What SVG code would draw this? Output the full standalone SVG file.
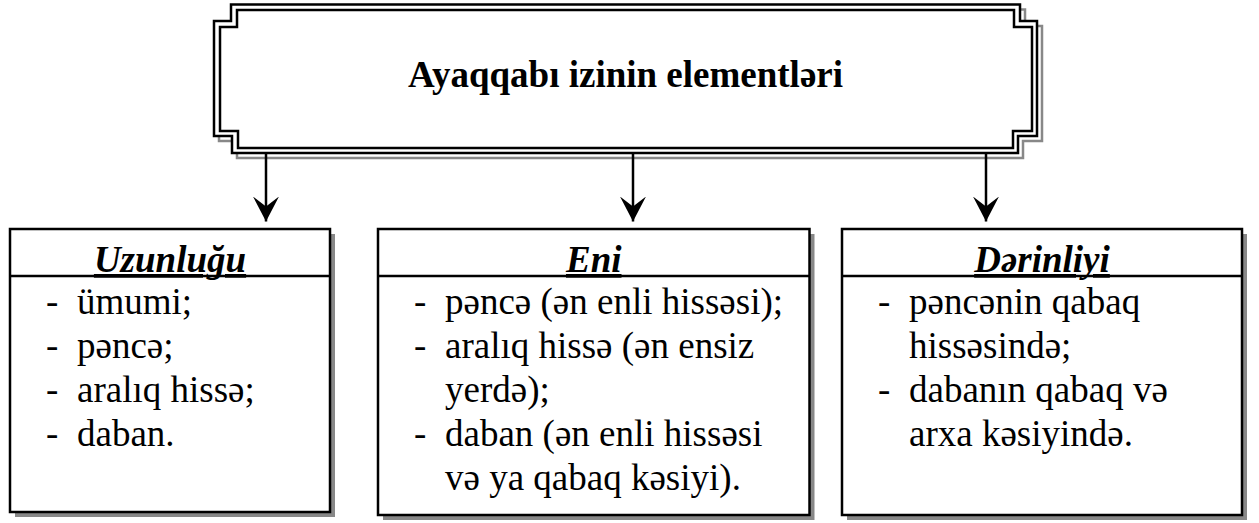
<svg xmlns="http://www.w3.org/2000/svg" width="1259" height="523" viewBox="0 0 1259 523">
<style>
text{font-family:"Liberation Serif","Times New Roman","DejaVu Serif",serif;fill:#000}
.title{font-size:37px;font-weight:bold}
.head{font-size:37px;font-weight:bold;font-style:italic;text-decoration:underline}
.body{font-size:37px}
.box{fill:#fff;stroke:#000;stroke-width:2.5}
.shadow{fill:#888;stroke:none}
.div{stroke:#000;stroke-width:2.5}
.fr{fill:none;stroke:#000;stroke-width:2.5}
.conn{stroke:#000;stroke-width:2.5;fill:none}
</style>
<defs>
<marker id="ah" markerUnits="userSpaceOnUse" viewBox="0 0 26 26" refX="25" refY="13" markerWidth="26" markerHeight="26" orient="auto">
<path d="M0,0 L25,13 L0,26 L10,13 Z" fill="#000"/>
</marker>
</defs>
<rect width="1259" height="523" fill="#fff"/>

<g id="title-node">
<path d="M236,9.5 H1025 V26 H1042 V141 H1023 V158 H237 V141 H219 V26 H236 Z" fill="none" stroke="#888" stroke-width="2.5"/>
<path d="M231,4.5 H1020 V21 H1037 V136 H1018 V153 H232 V136 H214 V21 H231 Z" fill="#fff" stroke="#000" stroke-width="2.5"/>
<path class="fr" d="M237,10 H1014 V27 H1032 V131 H1013 V148 H238 V131 H220 V27 H237 Z"/>
<text class="title" x="625.5" y="87" text-anchor="middle">Ayaqqabı izinin elementləri</text>
</g>

<g id="connectors">
<line class="conn" x1="266" y1="152" x2="266" y2="221.5" marker-end="url(#ah)"/>
<line class="conn" x1="633" y1="152" x2="633" y2="221.5" marker-end="url(#ah)"/>
<line class="conn" x1="986" y1="152" x2="986" y2="221.5" marker-end="url(#ah)"/>
</g>

<g id="uzunlugu">
<rect class="shadow" x="15" y="234" width="320" height="283"/>
<rect class="box" x="10" y="229" width="320" height="283"/>
<line class="div" x1="10" y1="276" x2="330" y2="276"/>
<text class="head" x="170" y="272" text-anchor="middle">Uzunluğu</text>
<text class="body" x="46" y="313.5">-</text><text class="body" x="77" y="313.5">ümumi;</text>
<text class="body" x="46" y="357.5">-</text><text class="body" x="77" y="357.5">pəncə;</text>
<text class="body" x="46" y="401.5">-</text><text class="body" x="77" y="401.5">aralıq hissə;</text>
<text class="body" x="46" y="445.5">-</text><text class="body" x="77" y="445.5">daban.</text>
</g>

<g id="eni">
<rect class="shadow" x="383" y="234" width="431.5" height="286"/>
<rect class="box" x="378" y="229" width="431.5" height="286"/>
<line class="div" x1="378" y1="276" x2="809.5" y2="276"/>
<text class="head" x="593.75" y="272" text-anchor="middle">Eni</text>
<text class="body" x="414" y="313.5">-</text><text class="body" x="445" y="313.5">pəncə (ən enli hissəsi);</text>
<text class="body" x="414" y="357.5">-</text><text class="body" x="445" y="357.5">aralıq hissə (ən ensiz</text>
<text class="body" x="445" y="401.5">yerdə);</text>
<text class="body" x="414" y="445.5">-</text><text class="body" x="445" y="445.5">daban (ən enli hissəsi</text>
<text class="body" x="445" y="489.5">və ya qabaq kəsiyi).</text>
</g>

<g id="derinliyi">
<rect class="shadow" x="847" y="234" width="400" height="286"/>
<rect class="box" x="842" y="229" width="400" height="286"/>
<line class="div" x1="842" y1="276" x2="1242" y2="276"/>
<text class="head" x="1042" y="272" text-anchor="middle">Dərinliyi</text>
<text class="body" x="878" y="313.5">-</text><text class="body" x="909" y="313.5">pəncənin qabaq</text>
<text class="body" x="909" y="357.5">hissəsində;</text>
<text class="body" x="878" y="401.5">-</text><text class="body" x="909" y="401.5">dabanın qabaq və</text>
<text class="body" x="909" y="445.5">arxa kəsiyində.</text>
</g>
</svg>
